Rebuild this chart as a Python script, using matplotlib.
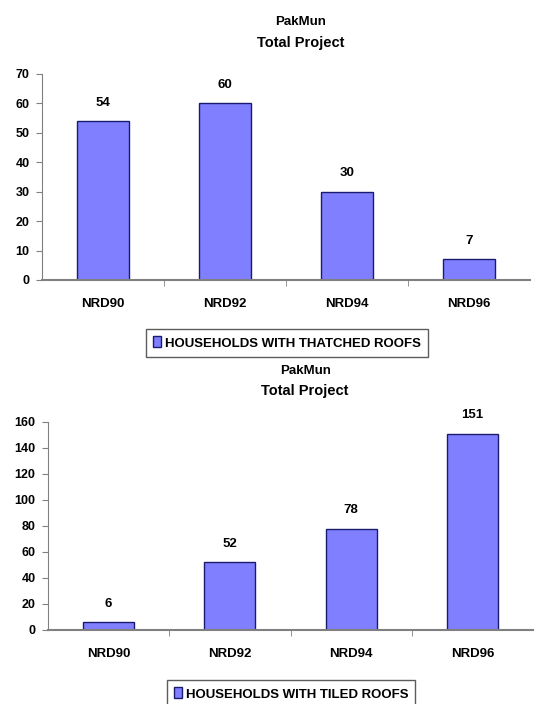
import matplotlib
matplotlib.use("Agg")
import matplotlib.pyplot as plt
import numpy as np
from matplotlib.patches import Patch

categories = ["NRD90", "NRD92", "NRD94", "NRD96"]
thatched = [54, 60, 30, 7]
tiled = [6, 52, 78, 151]
title_lines = ["PakMun", "Total Project"]
legend_thatched = "HOUSEHOLDS WITH THATCHED ROOFS"
legend_tiled = "HOUSEHOLDS WITH TILED ROOFS"

plt.rcParams['font.family'] = ['Liberation Sans', 'DejaVu Sans']
plt.rcParams['font.weight'] = 'bold'

W, H = 542, 704
fig = plt.figure(figsize=(W / 100, H / 100), dpi=100)

bar_color = "#7f7fff"
edge_color = "#1a1a6e"
axis_color = "#808080"


def panel(rect, values, ymax, ystep, legend_label, title_y, legend_center, label_off):
    ax = fig.add_axes(rect)
    x = np.arange(len(categories))
    ax.bar(x, values, width=0.42, color=bar_color, edgecolor=edge_color, linewidth=1.0, zorder=2)
    for xi, v in zip(x, values):
        ax.annotate(str(v), (xi, v), xytext=(0, label_off), textcoords="offset points",
                    ha="center", va="bottom", fontsize=9.5, fontweight="bold")
    ax.set_xlim(-0.5, len(categories) - 0.5)
    ax.set_ylim(0, ymax)
    ax.set_yticks(np.arange(0, ymax + 1, ystep))
    ax.set_xticks(x)
    ax.set_xticklabels(categories, fontsize=9.5, fontweight="bold")
    ax.set_xticks(np.arange(0.5, len(categories) - 0.5, 1), minor=True)
    ax.tick_params(axis="x", which="major", length=0, pad=13)
    ax.tick_params(axis="x", which="minor", length=4, direction="out", color=axis_color)
    ax.tick_params(axis="y", length=4, direction="out", color=axis_color, labelsize=9, pad=5)
    for lab in ax.get_yticklabels():
        lab.set_fontweight("bold")
    ax.spines["top"].set_visible(False)
    ax.spines["right"].set_visible(False)
    ax.spines["left"].set_color(axis_color)
    ax.spines["bottom"].set_color(axis_color)
    ax.spines["bottom"].set_linewidth(1.5)
    cx = rect[0] + rect[2] / 2 + 0.027
    fig.text(cx, 1 - title_y[0] / H, title_lines[0], ha="center", va="center", fontsize=9.5, fontweight="bold")
    fig.text(cx, 1 - title_y[1] / H, title_lines[1], ha="center", va="center", fontsize=10.5, fontweight="bold")
    leg = fig.legend(handles=[Patch(facecolor=bar_color, edgecolor=edge_color, label=legend_label)],
                     loc="center", bbox_to_anchor=(legend_center[0] / W, 1 - legend_center[1] / H),
                     frameon=True, fancybox=False, handlelength=0.6, handleheight=0.9,
                     handletextpad=0.3, borderpad=0.55, prop={"weight": "bold", "size": 9.5})
    leg.get_frame().set_edgecolor("#333333")
    leg.get_frame().set_linewidth(1.0)
    return ax


panel([42 / W, 1 - 280 / H, 488 / W, 206 / H], thatched, 70, 10, legend_thatched,
      (22, 43), (287, 343), 9)
panel([48 / W, 1 - 630 / H, 485 / W, 208 / H], tiled, 160, 20, legend_tiled,
      (371, 391), (291, 694), 9)

fig.savefig("out.png", dpi=100, facecolor="white")
